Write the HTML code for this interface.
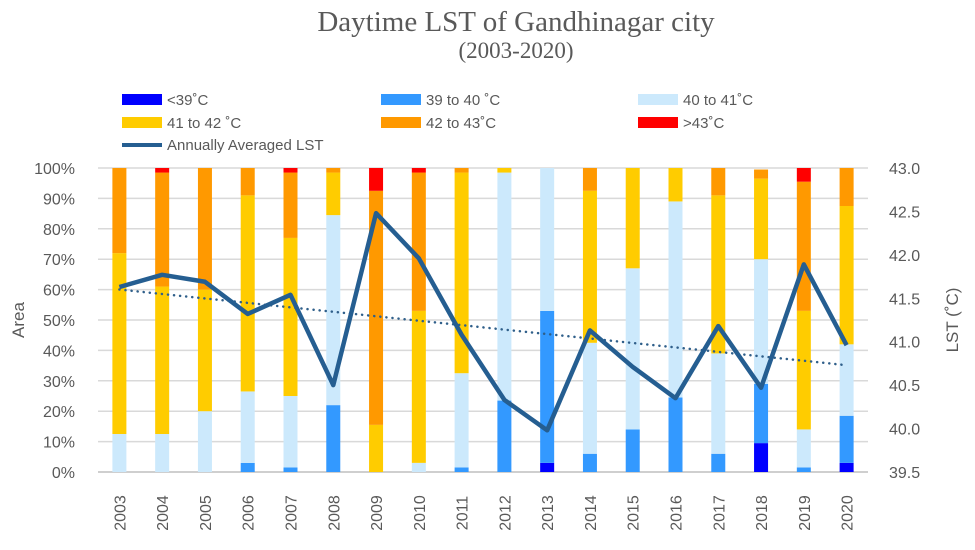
<!DOCTYPE html>
<html><head><meta charset="utf-8"><style>
body{margin:0;background:#fff;font-family:"Liberation Sans",sans-serif;}
svg text{font-family:"Liberation Sans",sans-serif;fill:#595959;}
</style></head><body>
<svg id="c" width="975" height="545">
<text x="516" y="31" text-anchor="middle" style="font-family:'Liberation Serif',serif;font-size:29px">Daytime LST of Gandhinagar city</text>
<text x="516" y="58" text-anchor="middle" style="font-family:'Liberation Serif',serif;font-size:23px">(2003-2020)</text>
<g id="legend"></g>
<g id="grid"></g>
<g id="bars"></g>
<g id="lines"></g>
<g id="axes"></g>
<text transform="translate(24,320) rotate(-90)" text-anchor="middle" font-size="17">Area</text>
<text transform="translate(958,320) rotate(-90)" text-anchor="middle" font-size="17">LST (˚C)</text>
</svg>
<script>
const years=[2003,2004,2005,2006,2007,2008,2009,2010,2011,2012,2013,2014,2015,2016,2017,2018,2019,2020];
const below39=[0,0,0,0,0,0,0,0,0,0,3,0,0,0,0,9.5,0,3];
const c39to40=[0,0,0,3,1.5,22,0,0,1.5,23.5,50,6,14,24.5,6,19.5,1.5,15.5];
const c40to41=[12.5,12.5,20,23.5,23.5,62.5,0,3,31,75,47,36.5,53,64.5,33,41,12.5,23.5];
const c41to42=[59.5,48.5,40,64.5,52,14,15.5,50,66,1.5,0,50,33,11,52,26.5,39,45.5];
const c42to43=[28,37.5,40,9,21.5,1.5,77,45.5,1.5,0,0,7.5,0,0,9,3,42.5,12.5];
const above43=[0,1.5,0,0,1.5,0,7.5,1.5,0,0,0,0,0,0,0,0,4.5,0];
const lst=[41.63,41.77,41.69,41.32,41.54,40.5,42.48,41.96,41.08,40.33,39.98,41.13,40.71,40.35,41.18,40.47,41.89,40.96];
const leftTicks=[0,10,20,30,40,50,60,70,80,90,100];
const rightTicks=[39.5,40.0,40.5,41.0,41.5,42.0,42.5,43.0];
const seriesNames=["<39˚C","39 to 40 ˚C","40 to 41˚C","41 to 42 ˚C","42 to 43˚C",">43˚C"];
const colors=["#0000ff","#3399ff","#cce9fc","#ffcc00","#ff9900","#ff0000"];
const series=[below39,c39to40,c40to41,c41to42,c42to43,above43];
const NS="http://www.w3.org/2000/svg";
const X0=98,X1=868,Y0=472,Y1=168;
const step=(X1-X0)/years.length;
const xs=i=>X0+step*(i+0.5);
const yL=v=>Y0-(v/100)*(Y0-Y1);
const yR=v=>Y0-(v-39.5)/3.5*(Y0-Y1);
function mk(tag,at,parent){const e=document.createElementNS(NS,tag);for(const k in at)e.setAttribute(k,at[k]);document.getElementById(parent).appendChild(e);return e;}
leftTicks.forEach(t=>{const l=mk('line',{x1:X0,x2:X1,y1:yL(t),y2:yL(t),stroke:t===0?'#bfbfbf':'#d9d9d9','stroke-width':1.5},'grid');


const tx=mk('text',{x:75,y:yL(t)+6,'text-anchor':'end','font-size':16},'axes');tx.textContent=t+'%';

});
rightTicks.forEach(t=>{const tx=mk('text',{x:889,y:yR(t)+6,'font-size':16},'axes');tx.textContent=t.toFixed(1);

});
years.forEach((yr,i)=>{let cum=0;series.forEach((s,k)=>{const v=s[i];if(v>0){const r=mk('rect',{x:xs(i)-7,width:14,y:yL(cum+v),height:yL(cum)-yL(cum+v),fill:colors[k]},'bars');

}cum+=v;});
const tx=mk('text',{transform:`translate(${xs(i)+6},${513}) rotate(-90)`,'text-anchor':'middle','font-size':16},'axes');tx.textContent=yr;

});
const n=lst.length;let sx=0,sy=0,sxy=0,sxx=0;lst.forEach((v,i)=>{sx+=i;sy+=v;sxy+=i*v;sxx+=i*i;});
const b=(n*sxy-sx*sy)/(n*sxx-sx*sx),a=(sy-b*sx)/n;
const tr=mk('line',{x1:xs(0),y1:yR(a),x2:xs(n-1),y2:yR(a+b*(n-1)),stroke:'#2f5f8a','stroke-width':2.5,'stroke-dasharray':'0.1 6','stroke-linecap':'round'},'lines');


const pl=mk('polyline',{points:lst.map((v,i)=>xs(i)+','+yR(v)).join(' '),fill:'none',stroke:'#255e91','stroke-width':4.5,'stroke-linejoin':'round'},'lines');


const lx=[122,381,638],ly=[100,123,145];
seriesNames.forEach((nm,k)=>{const x=lx[k%3],y=ly[Math.floor(k/3)];
const r=mk('rect',{x:x,y:y-6,width:40,height:11,fill:colors[k]},'legend');


const t=mk('text',{x:x+45,y:y+5,'font-size':15},'legend');t.textContent=nm;

});
const ll=mk('line',{x1:122,x2:162,y1:145,y2:145,stroke:'#255e91','stroke-width':4},'legend');


const lt=mk('text',{x:167,y:150,'font-size':15},'legend');lt.textContent='Annually Averaged LST';


</script>
</body></html>
